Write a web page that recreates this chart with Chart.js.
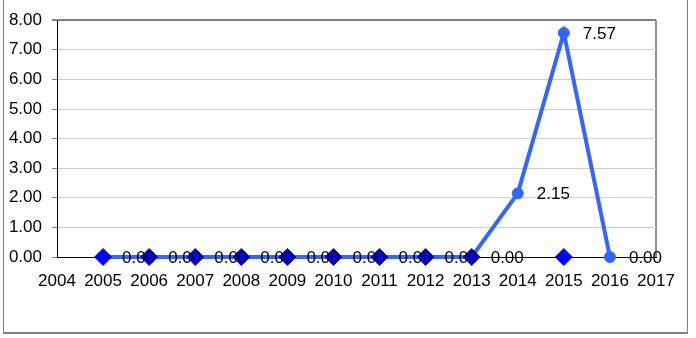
<!DOCTYPE html>
<html>
<head>
<meta charset="utf-8">
<script src="https://cdn.jsdelivr.net/npm/chart.js@4"></script>
<style>
  body { margin: 0; background: #fff; }
  #wrap { position: relative; width: 696px; height: 338px; overflow: hidden; }
  #frame { position: absolute; left: 3px; top: -2px; width: 685px; height: 336px; border: 1px solid #808080; border-bottom-width: 2px; box-sizing: border-box; }
  canvas { position: absolute; left: 0; top: 0; }
</style>
</head>
<body>
<div id="wrap">
  <div id="frame"></div>
  <canvas id="yearChart" width="696" height="338"></canvas>
</div>
<script>
// line series (with value labels)
const years = [2005, 2006, 2007, 2008, 2009, 2010, 2011, 2012, 2013, 2014, 2015, 2016];
const values = [0, 0, 0, 0, 0, 0, 0, 0, 0, 2.15, 7.57, 0];

// diamond markers
const markerYears = [2005, 2006, 2007, 2008, 2009, 2010, 2011, 2012, 2013, 2015];
const markerValues = [0, 0, 0, 0, 0, 0, 0, 0, 0, 0];

// axis ranges
const xMin = 2004, xMax = 2017;
const yMin = 0, yMax = 8;

const font = { family: "'Liberation Sans', Arial, sans-serif", size: 17 };

// value labels drawn to the right of each point of the line
const valueLabels = {
  id: 'valueLabels',
  afterDatasetsDraw(chart) {
    const ctx = chart.ctx;
    const meta = chart.getDatasetMeta(1);
    ctx.save();
    ctx.font = font.size + 'px ' + font.family;
    ctx.fillStyle = '#000';
    ctx.textAlign = 'left';
    ctx.textBaseline = 'middle';
    meta.data.forEach(function (pt, i) {
      ctx.fillText(values[i].toFixed(2), pt.x + 19, pt.y + 1);
    });
    ctx.restore();
  }
};

const ctx = document.getElementById('yearChart').getContext('2d');
new Chart(ctx, {
  type: 'scatter',
  data: {
    datasets: [{
      label: 'markers',
      data: markerYears.map((x, i) => ({ x: x, y: markerValues[i] })),
      showLine: false,
      pointStyle: 'rectRot',
      pointRadius: 8.5,
      pointBackgroundColor: '#0000ff',
      pointBorderColor: '#0000ff',
      pointBorderWidth: 1,
      clip: false
    }, {
      label: 'values',
      data: years.map((x, i) => ({ x: x, y: values[i] })),
      showLine: true,
      borderColor: '#3366ff',
      borderWidth: 4,
      pointStyle: 'circle',
      pointRadius: 5.5,
      pointBackgroundColor: '#3366ff',
      pointBorderColor: '#3366ff',
      pointBorderWidth: 1,
      clip: false
    }]
  },
  options: {
    responsive: false,
    animation: false,
    layout: { padding: { left: 0, top: 14, right: 40, bottom: 0 } },
    plugins: { legend: { display: false }, tooltip: { enabled: false } },
    scales: {
      x: {
        type: 'linear',
        min: xMin,
        max: xMax,
        afterFit(scale) { scale.height = 81; },
        ticks: {
          stepSize: 1,
          autoSkip: false,
          maxRotation: 0,
          padding: 14,
          color: '#000',
          font: font,
          callback: v => String(v)
        },
        grid: {
          drawTicks: false,
          color: c => (c.tick && c.tick.value === xMax) ? '#909090' : 'rgba(0,0,0,0)',
          lineWidth: 2
        },
        border: { color: '#000', width: 1 }
      },
      y: {
        min: yMin,
        max: yMax,
        afterFit(scale) { scale.width = 57; },
        ticks: {
          stepSize: 1,
          padding: 10,
          color: '#000',
          font: font,
          callback: v => Number(v).toFixed(2)
        },
        grid: {
          tickLength: 5,
          tickColor: '#808080',
          color: c => (c.tick && c.tick.value === yMax) ? '#808080' : '#cfcfcf',
          lineWidth: c => (c.tick && c.tick.value === yMax) ? 2 : 1
        },
        border: { color: '#000', width: 1 }
      }
    }
  },
  plugins: [valueLabels]
});
</script>
</body>
</html>
